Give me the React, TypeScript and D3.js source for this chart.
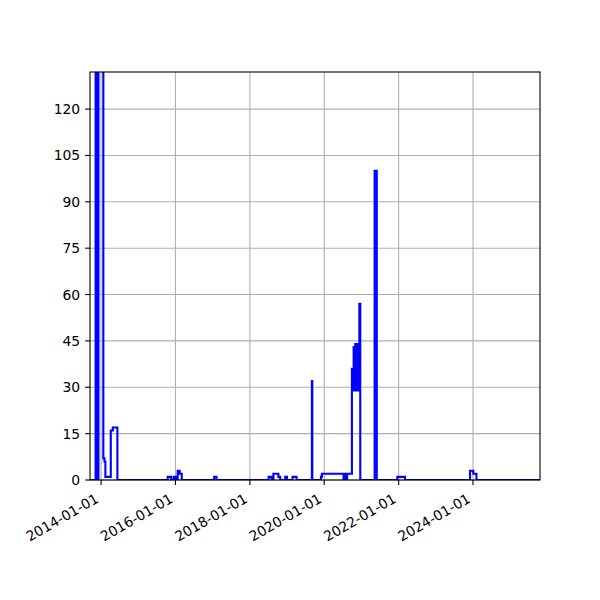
import * as d3 from "d3";

// step series (steps-post)
const dates = [
  "2013-09-01", "2013-11-08", "2013-11-23", "2013-12-06", "2014-01-23", "2014-02-03", "2014-02-12",
  "2014-04-06", "2014-04-26", "2014-06-10",
  "2015-10-17", "2015-11-20", "2015-12-15", "2016-01-04", "2016-01-23", "2016-02-12", "2016-03-03",
  "2017-01-15", "2017-02-07",
  "2018-07-04", "2018-08-02", "2018-08-20", "2018-10-08", "2018-10-26", "2018-12-14", "2018-12-31",
  "2019-02-24", "2019-04-05",
  "2019-09-02", "2019-09-06", "2019-11-30", "2019-12-09",
  "2020-07-09", "2020-07-16", "2020-07-23", "2020-07-30", "2020-08-06", "2020-08-13", "2020-08-21",
  "2020-09-29", "2020-10-04", "2020-10-08", "2020-10-12", "2020-10-16", "2020-10-20", "2020-10-24",
  "2020-10-28", "2020-11-01", "2020-11-05", "2020-11-09", "2020-11-13", "2020-11-17", "2020-11-21",
  "2020-11-25", "2020-11-29", "2020-12-03", "2020-12-07", "2020-12-11", "2020-12-20",
  "2021-05-10", "2021-05-31", "2021-12-19", "2022-03-04",
  "2023-12-03", "2024-01-04", "2024-02-04", "2025-11-30",
];
const values = [
  0, 300, 0, 300, 7, 6, 1,
  16, 17, 0,
  1, 0, 1, 0, 3, 2, 0,
  1, 0,
  1, 0, 2, 1, 0, 1, 0,
  1, 0,
  32, 0, 1, 2,
  0, 2, 0, 2, 0, 2, 2,
  36, 29, 36, 29, 43, 29, 43,
  30, 44, 29, 44, 29, 44, 30,
  44, 29, 43, 29, 57, 0,
  100, 0, 1, 0,
  3, 2, 0, 0,
];
const yTicks = [0, 15, 30, 45, 60, 75, 90, 105, 120];
const xTicks = ["2014-01-01", "2016-01-01", "2018-01-01", "2020-01-01", "2022-01-01", "2024-01-01"];

const width = 600;
const height = 600;
const left = 90;
const right = 540;
const top = 72;
const bottom = 480;
const font = "DejaVu Sans, sans-serif";
const fs = 13.9;

export default function App() {
  const parse = d3.utcParse("%Y-%m-%d");
  const data = dates.map((d, i) => ({ date: parse(d) as Date, value: values[i] }));

  const x = d3.scaleUtc()
    .domain([parse("2013-09-14") as Date, parse("2025-10-20") as Date])
    .range([left, right]);
  const y = d3.scaleLinear().domain([0, 132]).range([bottom, top]);

  const line = d3.line<{ date: Date; value: number }>()
    .x(d => x(d.date))
    .y(d => y(d.value))
    .curve(d3.curveStepAfter);

  return (
    <svg width={width} height={height} style={{ position: "absolute", left: 0, top: 0, background: "#fff" }}>
      <defs>
        <clipPath id="plot">
          <rect x={left} y={top} width={right - left} height={bottom - top} />
        </clipPath>
      </defs>
      {/* grid */}
      <g stroke="#b0b0b0" strokeWidth={1.1}>
        {yTicks.map(t => (
          <line key={t} x1={left} x2={right} y1={y(t)} y2={y(t)} />
        ))}
        {xTicks.map(t => (
          <line key={t} x1={x(parse(t) as Date)} x2={x(parse(t) as Date)} y1={top} y2={bottom} />
        ))}
      </g>
      {/* series */}
      <path d={line(data) ?? ""} fill="none" stroke="#0000ff" strokeWidth={2.1}
        strokeLinejoin="miter" clipPath="url(#plot)" />
      {/* spines */}
      <rect x={left} y={top} width={right - left} height={bottom - top} fill="none" stroke="#000" strokeWidth={1.1} />
      {/* y axis */}
      <g fontFamily={font} fontSize={fs}>
        {yTicks.map(t => (
          <g key={t}>
            <line x1={left - 4.9} x2={left} y1={y(t)} y2={y(t)} stroke="#000" strokeWidth={1.1} />
            <text x={left - 9.8} y={y(t)} textAnchor="end" dominantBaseline="central">{t}</text>
          </g>
        ))}
      </g>
      {/* x axis */}
      <g fontFamily={font} fontSize={fs}>
        {xTicks.map(t => {
          const px = x(parse(t) as Date);
          return (
            <g key={t}>
              <line x1={px} x2={px} y1={bottom} y2={bottom + 4.9} stroke="#000" strokeWidth={1.1} />
              <text transform={`translate(${px - 1.5},${501.5}) rotate(-30)`} textAnchor="end">{t}</text>
            </g>
          );
        })}
      </g>
    </svg>
  );
}
